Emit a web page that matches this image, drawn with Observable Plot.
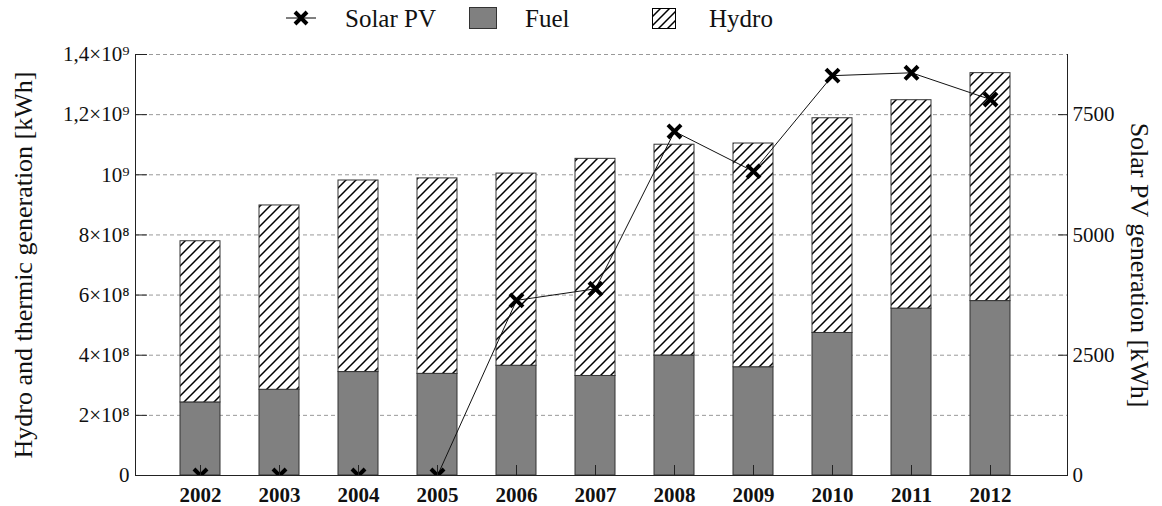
<!DOCTYPE html>
<html><head><meta charset="utf-8">
<script src="https://cdn.jsdelivr.net/npm/d3@7"></script>
<script src="https://cdn.jsdelivr.net/npm/@observablehq/plot@0.6"></script>
<style>
body{margin:0;background:#fff;font-family:"Liberation Serif","Times New Roman",serif;}
#wrap{position:relative;width:1162px;height:506px;overflow:hidden;}
#legend{position:relative;height:36px;width:1162px;}
.li{position:absolute;top:0;height:36px;display:flex;align-items:center;font-family:"Liberation Serif",serif;font-size:25px;color:#111;line-height:1;}
svg{display:block;}
</style></head><body>
<div id="wrap"><div id="legend"></div><div id="chart"></div></div>
<script>
// ---- data ----
const years = ["2002","2003","2004","2005","2006","2007","2008","2009","2010","2011","2012"];
const fuel  = [2.43e8, 2.85e8, 3.44e8, 3.38e8, 3.65e8, 3.31e8, 3.99e8, 3.60e8, 4.74e8, 5.55e8, 5.80e8];
const hydro = [5.36e8, 6.13e8, 6.37e8, 6.50e8, 6.39e8, 7.22e8, 7.01e8, 7.44e8, 7.14e8, 6.93e8, 7.58e8];
const solar = [0, 0, 0, 0, 3640, 3880, 7150, 6320, 8310, 8370, 7815];
const leftTicks = [0, 2e8, 4e8, 6e8, 8e8, 1e9, 1.2e9, 1.4e9];
const leftTickLabels = ["0","2×10⁸","4×10⁸","6×10⁸","8×10⁸","10⁹","1,2×10⁹","1,4×10⁹"];
const rightTicks = [0, 2500, 5000, 7500];
const rightTickLabels = ["0","2500","5000","7500"];
const leftDomain = [0, 1.4e9];
const rightDomain = [0, 8750];
const seriesNames = ["Solar PV","Fuel","Hydro"];
const leftTitle = "Hydro and thermic generation [kWh]";
const rightTitle = "Solar PV generation [kWh]";

// ---- legend ----
const legend = document.getElementById("legend");
const hatchSvg = '<svg width="24" height="21" style="display:block"><defs><pattern id="lh" patternUnits="userSpaceOnUse" width="9" height="9"><rect width="9" height="9" fill="#fff"/><path d="M-1,1 l2,-2 M0,9 l9,-9 M8,10 l2,-2" stroke="#000" stroke-width="1.5"/></pattern></defs><rect x="0.5" y="0.5" width="23" height="20" fill="url(#lh)" stroke="#000"/></svg>';
const items = [
  {sym:'<svg width="30" height="16" style="display:block"><line x1="0" y1="8" x2="30" y2="8" stroke="#000"/><path d="M9,2 L21,14 M9,14 L21,2" stroke="#000" stroke-width="4"/></svg>', symX:286, txtX:345},
  {sym:'<svg width="28" height="22" style="display:block"><rect x="0.5" y="0.5" width="27" height="21" fill="#808080" stroke="#333"/></svg>', symX:469, txtX:525},
  {sym:hatchSvg, symX:652, txtX:709}
];
items.forEach((it,i)=>{
  const s = document.createElement("div"); s.className="li"; s.style.left=it.symX+"px"; s.innerHTML=it.sym; legend.appendChild(s);
  const t = document.createElement("div"); t.className="li"; t.style.left=it.txtX+"px"; t.textContent=seriesNames[i]; legend.appendChild(t);
});

// ---- chart ----
const k = leftDomain[1] / rightDomain[1];
const rows = years.map((y,i)=>({year:y, fuel:fuel[i], top:fuel[i]+hydro[i], solar:solar[i]}));

const chart = Plot.plot({
  width:1162, height:470,
  marginLeft:135, marginRight:95, marginTop:18, marginBottom:31,
  style:{fontFamily:'"Liberation Serif", serif', fontSize:"21px", color:"#111", background:"#fff", overflow:"visible"},
  x:{type:"band", domain:years, paddingInner:0.5, paddingOuter:0.5, insetLeft:3, insetRight:15, label:null},
  y:{domain:leftDomain, label:null},
  marks:[
    Plot.ruleY(leftTicks.slice(1), {stroke:"#999", strokeDasharray:"4,3", strokeWidth:1}),
    Plot.barY(rows, {x:"year", y1:0, y2:"fuel", fill:"#808080", stroke:"#333", strokeWidth:1}),
    Plot.barY(rows, {x:"year", y1:"fuel", y2:"top", fill:"url(#hatch)", stroke:"#333", strokeWidth:1}),
    Plot.line(rows, {x:"year", y:d=>d.solar*k, stroke:"#111", strokeWidth:1}),
    Plot.dot(rows, {x:"year", y:d=>d.solar*k, symbol:"times", r:6, stroke:"#000", strokeWidth:4, clip:true}),
    Plot.frame({anchor:"left", stroke:"#222"}),
    Plot.frame({anchor:"right", stroke:"#222"}),
    Plot.frame({anchor:"bottom", stroke:"#222"}),
    Plot.axisY(leftTicks, {anchor:"left", tickSize:-12, tickPadding:18, fontSize:21, tickFormat:d=>leftTickLabels[leftTicks.indexOf(d)], label:null, stroke:"#222"}),
    Plot.axisY(rightTicks.map(v=>v*k), {anchor:"right", tickSize:-10, tickPadding:15, fontSize:21, tickFormat:d=>rightTickLabels[rightTicks.indexOf(Math.round(d/k))], label:null, stroke:"#222"}),
    Plot.axisX({anchor:"bottom", tickSize:-10, tickPadding:22, fontSize:21, fontWeight:"bold", label:null, stroke:"#222"}),
    Plot.text([leftTitle], {frameAnchor:"left", textAnchor:"middle", lineAnchor:"middle", rotate:-90, dx:-112, fontSize:26, text:d=>d}),
    Plot.text([rightTitle], {frameAnchor:"right", textAnchor:"middle", lineAnchor:"middle", rotate:90, dx:72, fontSize:26, text:d=>d})
  ]
});
const svg = d3.select(chart);
const defs = svg.insert("defs", ":first-child");
const pat = defs.append("pattern").attr("id","hatch").attr("patternUnits","userSpaceOnUse").attr("width",10).attr("height",10);
pat.append("rect").attr("width",10).attr("height",10).attr("fill","#fff");
pat.append("path").attr("d","M-1,1 l2,-2 M0,10 l10,-10 M9,11 l2,-2").attr("stroke","#000").attr("stroke-width",1.5);
document.getElementById("chart").appendChild(chart);
</script>
</body></html>
